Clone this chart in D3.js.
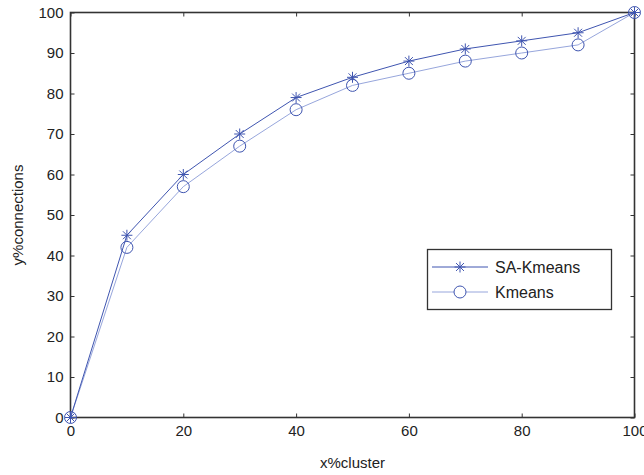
<!DOCTYPE html>
<html>
<head>
<meta charset="utf-8">
<script src="https://cdn.jsdelivr.net/npm/d3@7"></script>
<style>
  body { margin: 0; background: #fff; }
  text { font-family: "Liberation Sans", Arial, sans-serif; fill: #222; }
</style>
</head>
<body>
<svg id="chart" width="644" height="475"></svg>
<script>
// data
var clusterPct = [0, 10, 20, 30, 40, 50, 60, 70, 80, 90, 100];
var saKmeans = [0, 45, 60, 70, 79, 84, 88, 91, 93, 95, 100];
var kmeans = [0, 42, 57, 67, 76, 82, 85, 88, 90, 92, 100];
var xTicks = [0, 20, 40, 60, 80, 100];
var yTicks = [0, 10, 20, 30, 40, 50, 60, 70, 80, 90, 100];
var seriesNames = ['SA-Kmeans', 'Kmeans'];

var svg = d3.select('#chart');
// plot box (don't call it "top", window.top is read-only)
var plotL = 70.5, plotR = 634.5, plotT = 12.5, plotB = 417.5;

var x = d3.scaleLinear().domain([0, 100]).range([plotL, plotR]);
var y = d3.scaleLinear().domain([0, 100]).range([plotB, plotT]);

var axisColor = '#333';

// frame
svg.append('rect')
  .attr('x', plotL).attr('y', plotT)
  .attr('width', plotR - plotL).attr('height', plotB - plotT)
  .attr('fill', 'none').attr('stroke', axisColor).attr('stroke-width', 1.6);

// axes with inward ticks
var bottomAxis = svg.append('g').attr('transform', 'translate(0,' + plotB + ')')
  .call(d3.axisBottom(x).tickValues(xTicks).tickSizeInner(-4).tickSizeOuter(0).tickPadding(8));
var leftAxis = svg.append('g').attr('transform', 'translate(' + plotL + ',0)')
  .call(d3.axisLeft(y).tickValues(yTicks).tickSizeInner(-4).tickSizeOuter(0).tickPadding(7));
var topAxis = svg.append('g').attr('transform', 'translate(0,' + plotT + ')')
  .call(d3.axisTop(x).tickValues(xTicks).tickSizeInner(-4).tickSizeOuter(0).tickFormat(''));
var rightAxis = svg.append('g').attr('transform', 'translate(' + plotR + ',0)')
  .call(d3.axisRight(y).tickValues(yTicks).tickSizeInner(-4).tickSizeOuter(0).tickFormat(''));

[bottomAxis, leftAxis, topAxis, rightAxis].forEach(function(g){
  g.select('.domain').remove();
  g.selectAll('line').attr('stroke', axisColor);
  g.selectAll('text').style('font-size', '15px').style('font-family', '"Liberation Sans", Arial, sans-serif').attr('fill', '#222');
});

// axis labels
svg.append('text').attr('x', (plotL + plotR) / 2).attr('y', 468)
  .attr('text-anchor', 'middle').style('font-size', '15px').text('x%cluster');
svg.append('text').attr('transform', 'translate(23,' + ((plotT + plotB) / 2) + ') rotate(-90)')
  .attr('text-anchor', 'middle').style('font-size', '15px').text('y%connections');

var dark = '#3f55b0';
var light = '#97a6dc';

var line = d3.line()
  .x(function(d){ return x(d[0]); })
  .y(function(d){ return y(d[1]); });

var saPts = clusterPct.map(function(c, i){ return [c, saKmeans[i]]; });
var kmPts = clusterPct.map(function(c, i){ return [c, kmeans[i]]; });

svg.append('path').datum(kmPts).attr('d', line)
  .attr('fill', 'none').attr('stroke', light).attr('stroke-width', 1);
svg.append('path').datum(saPts).attr('d', line)
  .attr('fill', 'none').attr('stroke', dark).attr('stroke-width', 1);

function star(g, cx, cy, r){
  var s = g.append('g').attr('transform', 'translate(' + cx + ',' + cy + ')')
    .attr('stroke', dark).attr('stroke-width', 1);
  s.append('line').attr('x1', -r).attr('x2', r).attr('y1', 0).attr('y2', 0);
  s.append('line').attr('x1', 0).attr('x2', 0).attr('y1', -r).attr('y2', r);
  var d = r * 0.72;
  s.append('line').attr('x1', -d).attr('x2', d).attr('y1', -d).attr('y2', d);
  s.append('line').attr('x1', -d).attr('x2', d).attr('y1', d).attr('y2', -d);
}

// markers
svg.selectAll('circle.km').data(kmPts).enter().append('circle')
  .attr('class', 'km')
  .attr('cx', function(d){ return x(d[0]); })
  .attr('cy', function(d){ return y(d[1]); })
  .attr('r', 6).attr('fill', 'none').attr('stroke', dark).attr('stroke-width', 1);
saPts.forEach(function(d){ star(svg, x(d[0]), y(d[1]), 5.5); });

// legend
var lg = svg.append('g');
lg.append('rect').attr('x', 427.5).attr('y', 249.5).attr('width', 184).attr('height', 60)
  .attr('fill', '#fff').attr('stroke', axisColor).attr('stroke-width', 1.3);
var rows = [{ y: 267, color: dark, mark: 'star' }, { y: 292, color: light, mark: 'circle' }];
rows.forEach(function(r, i){
  lg.append('line').attr('x1', 432).attr('x2', 488).attr('y1', r.y).attr('y2', r.y)
    .attr('stroke', r.color).attr('stroke-width', 1);
  if (r.mark === 'star') star(lg, 460, r.y, 5.5);
  else lg.append('circle').attr('cx', 460).attr('cy', r.y).attr('r', 6)
    .attr('fill', '#fff').attr('stroke', dark).attr('stroke-width', 1);
  lg.append('text').attr('x', 495).attr('y', r.y + 6).style('font-size', '16px').text(seriesNames[i]);
});
</script>
</body>
</html>
